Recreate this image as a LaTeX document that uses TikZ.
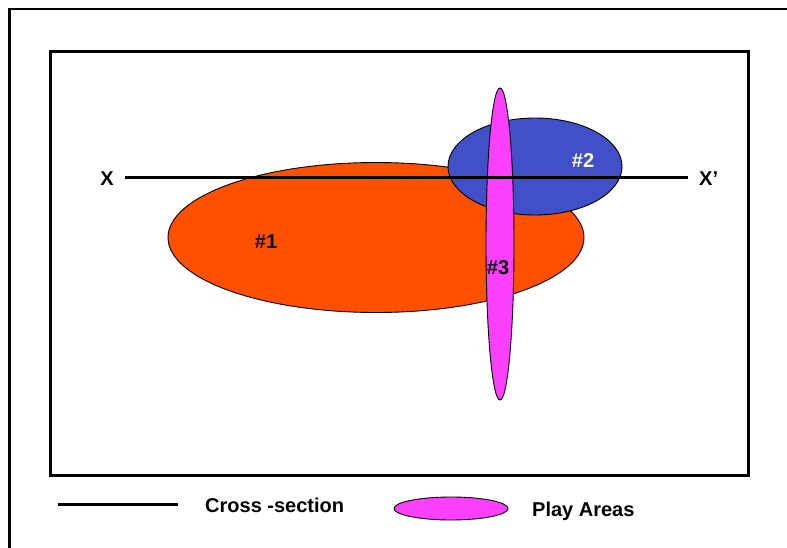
\documentclass[tikz,border=0pt]{standalone}
\usepackage{fontspec}
\setmainfont{Liberation Sans}
\definecolor{orangeA}{RGB}{255,80,0}
\definecolor{blueA}{RGB}{65,80,200}
\definecolor{magA}{RGB}{250,64,250}
\begin{document}
\begin{tikzpicture}[x=1pt,y=-1pt,
  lbl/.style={font=\fontsize{20}{24}\selectfont\bfseries, inner sep=0pt},
  area/.style={draw=black, line width=0.9pt}]
\useasboundingbox (0,0) rectangle (787,548);
\begin{scope}
\clip (0,0) rectangle (787,548);
\draw[line width=2.2pt] (9.5,9) rectangle (820,580);
\end{scope}
\draw[line width=3pt] (50,52) rectangle (748,475);
% play areas
\path[area, fill=orangeA] (376,237.5) ellipse [x radius=208, y radius=75];
\path[area, fill=blueA] (535,166.5) ellipse [x radius=87, y radius=48.5];
\path[area, fill=magA] (500,244) ellipse [x radius=14, y radius=156];
% cross-section
\coordinate (xa) at (125,178);
\coordinate (xb) at (688,178);
\draw[line width=3pt] (xa) -- (xb);
\node[lbl, anchor=east] (lx) at (114,179) {X};
\node[lbl, anchor=west] (lxp) at (699,179) {X’};
\node[lbl] (n1) at (266,242) {\#1};
\node[lbl, text=white] (n2) at (583,161) {\#2};
\node[lbl] (n3) at (498,268) {\#3};
% legend
\coordinate (la) at (58,504);
\coordinate (lb) at (178,504);
\draw[line width=3pt] (la) -- (lb);
\node[lbl, anchor=base west] (lcs) at (205,512) {Cross -section};
\path[area, fill=magA] (451,508.5) ellipse [x radius=57, y radius=11.5];
\node[lbl, anchor=base west] (lpa) at (532,516) {Play Areas};
\end{tikzpicture}
\end{document}
